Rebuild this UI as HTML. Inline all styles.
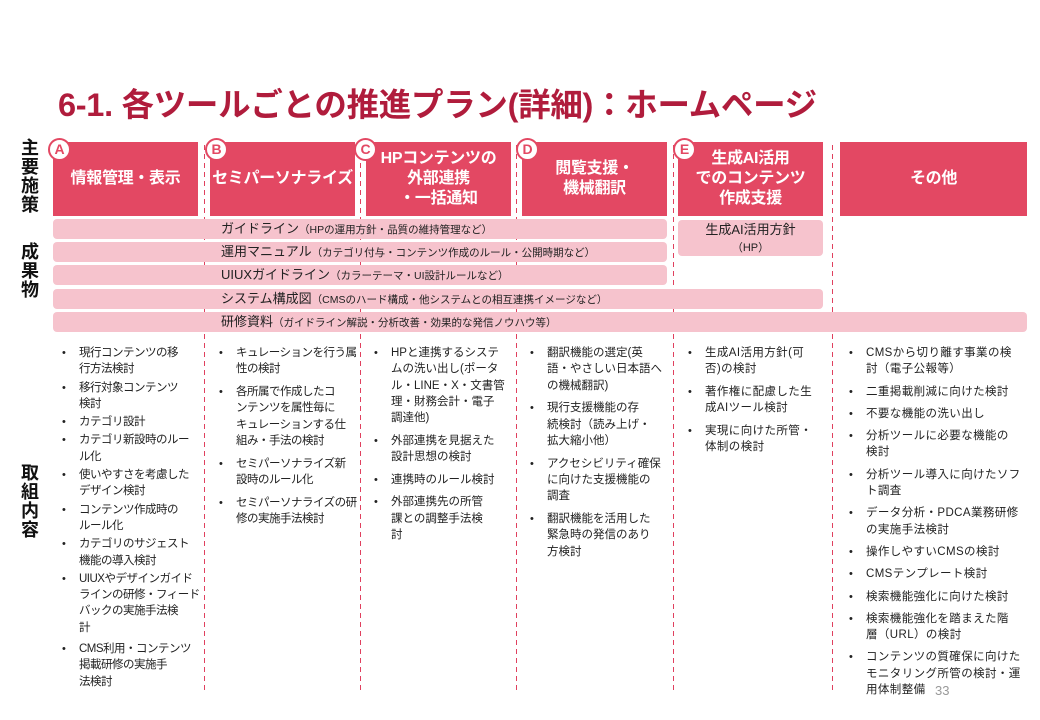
<!DOCTYPE html>
<html><head><meta charset="utf-8">
<style>
*{margin:0;padding:0;box-sizing:border-box}
body{width:1040px;height:720px;background:#fff;position:relative;overflow:hidden;font-family:"Liberation Sans","Noto Sans CJK JP",sans-serif;color:#222}
.abs{position:absolute}
.title{left:58px;top:79px;font-size:32.5px;font-weight:bold;color:#b01c3c;white-space:nowrap;letter-spacing:-0.3px}
.hd{position:absolute;top:142px;height:74px;background:#e34863;color:#fff;font-weight:bold;font-size:16px;line-height:20px;display:flex;align-items:center;justify-content:center;text-align:center;white-space:nowrap;letter-spacing:-0.3px}
.circ{position:absolute;width:23px;height:23px;border-radius:50%;background:#fff;border:2px solid #e34863;color:#e34863;font-weight:bold;font-size:14px;line-height:19px;text-align:center}
.dash{position:absolute;top:145px;height:545px;width:1px;background:repeating-linear-gradient(to bottom,#e0405e 0 5px,transparent 5px 9px)}
.bar{position:absolute;background:#f6c3cd;border-radius:4px;height:20px;font-size:13px;line-height:20px;padding-left:168px;white-space:nowrap;color:#222}
.bar small{font-size:10.5px}
.side{position:absolute;left:18px;width:24px;font-size:18px;font-weight:bold;line-height:19px;text-align:center;color:#111}
ul{position:absolute;list-style:none;top:345px;font-size:11.5px;letter-spacing:-0.5px;line-height:16.3px;white-space:nowrap;color:#222}
ul li{position:relative}
ul li:before{content:"•";position:absolute;left:-17px;font-size:11px;letter-spacing:0}
</style></head><body>
<div class="abs title">6-1. 各ツールごとの推進プラン(詳細)：ホームページ</div>

<div class="side" style="top:139px">主<br>要<br>施<br>策</div>
<div class="side" style="top:243px">成<br>果<br>物</div>
<div class="side" style="top:464px">取<br>組<br>内<br>容</div>

<div class="dash" style="left:204px"></div>
<div class="dash" style="left:360px"></div>
<div class="dash" style="left:516px"></div>
<div class="dash" style="left:673px"></div>
<div class="dash" style="left:832px"></div>

<div class="hd" style="left:53px;width:145px">情報管理・表示</div>
<div class="hd" style="left:210px;width:145px">セミパーソナライズ</div>
<div class="hd" style="left:366px;width:145px">HPコンテンツの<br>外部連携<br>・一括通知</div>
<div class="hd" style="left:522px;width:145px">閲覧支援・<br>機械翻訳</div>
<div class="hd" style="left:678px;width:145px">生成AI活用<br>でのコンテンツ<br>作成支援</div>
<div class="hd" style="left:840px;width:187px">その他</div>

<div class="circ" style="left:48px;top:138px">A</div>
<div class="circ" style="left:205px;top:138px">B</div>
<div class="circ" style="left:354px;top:138px">C</div>
<div class="circ" style="left:516px;top:138px">D</div>
<div class="circ" style="left:673px;top:138px">E</div>

<div class="bar" style="left:53px;top:219px;width:614px">ガイドライン<small>（HPの運用方針・品質の維持管理など）</small></div>
<div class="bar" style="left:53px;top:242px;width:614px">運用マニュアル<small>（カテゴリ付与・コンテンツ作成のルール・公開時期など）</small></div>
<div class="bar" style="left:53px;top:265px;width:614px">UIUXガイドライン<small>（カラーテーマ・UI設計ルールなど）</small></div>
<div class="bar" style="left:53px;top:289px;width:770px">システム構成図<small>（CMSのハード構成・他システムとの相互連携イメージなど）</small></div>
<div class="bar" style="left:53px;top:312px;width:974px">研修資料<small>（ガイドライン解説・分析改善・効果的な発信ノウハウ等）</small></div>
<div class="bar" style="left:678px;top:220px;width:145px;height:36px;padding:0;text-align:center;line-height:17px;padding-top:1px">生成AI活用方針<br><small style="font-size:11px">（HP）</small></div>

<ul style="left:79px">
<li>現行コンテンツの移<br>行方法検討</li>
<li style="margin-top:2px">移行対象コンテンツ<br>検討</li>
<li style="margin-top:2px">カテゴリ設計</li>
<li style="margin-top:2px">カテゴリ新設時のルー<br>ル化</li>
<li style="margin-top:2px">使いやすさを考慮した<br>デザイン検討</li>
<li style="margin-top:2px">コンテンツ作成時の<br>ルール化</li>
<li style="margin-top:2px">カテゴリのサジェスト<br>機能の導入検討</li>
<li style="margin-top:2px">UIUXやデザインガイド<br>ラインの研修・フィード<br>バックの実施手法検<br>計</li>
<li style="margin-top:5px">CMS利用・コンテンツ<br>掲載研修の実施手<br>法検討</li>
</ul>

<ul style="left:236px">
<li>キュレーションを行う属<br>性の検討</li>
<li style="margin-top:6.5px">各所属で作成したコ<br>ンテンツを属性毎に<br>キュレーションする仕<br>組み・手法の検討</li>
<li style="margin-top:6.5px">セミパーソナライズ新<br>設時のルール化</li>
<li style="margin-top:6.5px">セミパーソナライズの研<br>修の実施手法検討</li>
</ul>

<ul style="left:391px;letter-spacing:0">
<li>HPと連携するシステ<br>ムの洗い出し(ポータ<br>ル・LINE・X・文書管<br>理・財務会計・電子<br>調達他)</li>
<li style="margin-top:6.5px">外部連携を見据えた<br>設計思想の検討</li>
<li style="margin-top:6px">連携時のルール検討</li>
<li style="margin-top:6.5px">外部連携先の所管<br>課との調整手法検<br>討</li>
</ul>

<ul style="left:547px;letter-spacing:0">
<li>翻訳機能の選定(英<br>語・やさしい日本語へ<br>の機械翻訳)</li>
<li style="margin-top:6.5px">現行支援機能の存<br>続検討（読み上げ・<br>拡大縮小他）</li>
<li style="margin-top:6.5px">アクセシビリティ確保<br>に向けた支援機能の<br>調査</li>
<li style="margin-top:6.5px">翻訳機能を活用した<br>緊急時の発信のあり<br>方検討</li>
</ul>

<ul style="left:705px;letter-spacing:0.4px">
<li>生成AI活用方針(可<br>否)の検討</li>
<li style="margin-top:6.5px">著作権に配慮した生<br>成AIツール検討</li>
<li style="margin-top:6.5px">実現に向けた所管・<br>体制の検討</li>
</ul>

<ul style="left:866px;letter-spacing:0.4px">
<li>CMSから切り離す事業の検<br>討（電子公報等）</li>
<li style="margin-top:6px">二重掲載削減に向けた検討</li>
<li style="margin-top:6px">不要な機能の洗い出し</li>
<li style="margin-top:6px">分析ツールに必要な機能の<br>検討</li>
<li style="margin-top:6px">分析ツール導入に向けたソフ<br>ト調査</li>
<li style="margin-top:6px">データ分析・PDCA業務研修<br>の実施手法検討</li>
<li style="margin-top:6px">操作しやすいCMSの検討</li>
<li style="margin-top:6px">CMSテンプレート検討</li>
<li style="margin-top:6px">検索機能強化に向けた検討</li>
<li style="margin-top:6px">検索機能強化を踏まえた階<br>層（URL）の検討</li>
<li style="margin-top:6px">コンテンツの質確保に向けた<br>モニタリング所管の検討・運<br>用体制整備</li>
</ul>
<div class="abs" style="left:935px;top:683px;font-size:13px;color:#999">33</div>
</body></html>
